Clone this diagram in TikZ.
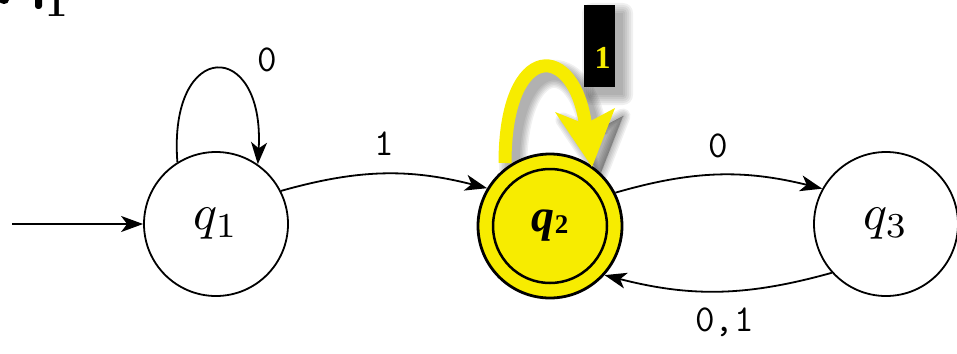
\documentclass[tikz,border=0pt]{standalone}
\usepackage{fontspec}
\newfontfamily\timesfont{Liberation Serif}
\usetikzlibrary{arrows.meta}
\definecolor{hiyellow}{RGB}{247,236,0}
\tikzset{
  dfastate/.style={circle, draw=black, line width=1.8pt, minimum size=144pt,
    inner sep=0pt},
  trans/.style={line width=1.8pt, -{Stealth[length=22pt,width=16pt,inset=6pt]}},
  lbl/.style={inner sep=0pt, font=\fontsize{38}{40}\selectfont\ttfamily},
  softshade/.style={black, opacity=0.06},
}
\begin{document}
\begin{tikzpicture}[x=1pt,y=-1pt]
  \useasboundingbox (0,0) rectangle (957,353);
  \clip (0,0) rectangle (957,353);

  % fragments of the title line, cut by the top edge
  \fill (4,0) ellipse (5pt and 4pt);
  \fill[rounded corners=3pt] (35,-6) rectangle (42,9);
  \node[anchor=base west, inner sep=0pt,
        font=\bfseries\fontsize{40}{40}\selectfont] (titleone) at (45,17) {1};

  % soft shadows of the highlight box and the highlighted loop
  \foreach \k in {0,...,5}{
    \fill[softshade, rounded corners=2*\k pt]
      (592-2*\k, 13-2*\k) rectangle (623+2*\k, 95+2*\k);
    \draw[softshade, line width=13pt+3pt*\k, shift={(8,8)}]
      (505,163) .. controls (505,40) and (575,40) .. (586,128);
    \filldraw[softshade, line width=3pt*\k, line join=round, shift={(8,8)}]
      (555,112) -- (592,167) -- (615,108) -- (585,124) -- cycle;
  }

  % states
  \node[dfastate] (q1) at (216,224) {\scalebox{5}{$q_1$}};
  \node[dfastate, fill=hiyellow, line width=2.8pt] (q2) at (550,226)
    {\timesfont\bfseries\itshape\fontsize{46}{50}\selectfont
     q\raisebox{-2pt}{\upshape\fontsize{27}{27}\selectfont 2}};
  \node[circle, draw=black, line width=2.5pt, minimum size=114pt,
        inner sep=0pt] (q2in) at (q2) {};
  \node[dfastate] (q3) at (886,224) {\scalebox{5}{$q_3$}};

  % transitions
  \coordinate (start) at (12,224);
  \draw[trans] (start) -- (q1.west);
  \draw[trans] (q1.122) .. controls (168,38) and (265,38) .. (q1.55);
  \node[lbl] (l10) at (267,60) {0};
  \draw[trans] (q1.27) to[bend left=15] node[lbl, above=17pt] (l12) {1} (q2.149);
  \draw[trans] (q2.27) to[bend left=15] node[lbl, above=16pt] (l23) {0} (q3.151);
  \draw[trans] (q3.222) to[bend left=15]
    node[lbl, below=16pt, xshift=6pt] (l32) {0,1} (q2.318);

  % highlighted self-loop on q2
  \coordinate (ys) at (505,163);
  \coordinate (ye) at (586,128);
  \draw[hiyellow, line width=13pt] (ys) .. controls (505,40) and (575,40) .. (ye);
  \fill[hiyellow] (555,112) -- (592,167) -- (615,108) -- (585,124) -- cycle;

  % label box of the highlighted loop
  \node[fill=black, minimum width=31pt, minimum height=82pt, inner sep=0pt]
    (hibox) at (599.5,46) {};
  \node[text=hiyellow, inner sep=0pt,
        font=\timesfont\bfseries\fontsize{32}{32}\selectfont] (hione) at (602.5,57.5) {1};
\end{tikzpicture}
\end{document}
